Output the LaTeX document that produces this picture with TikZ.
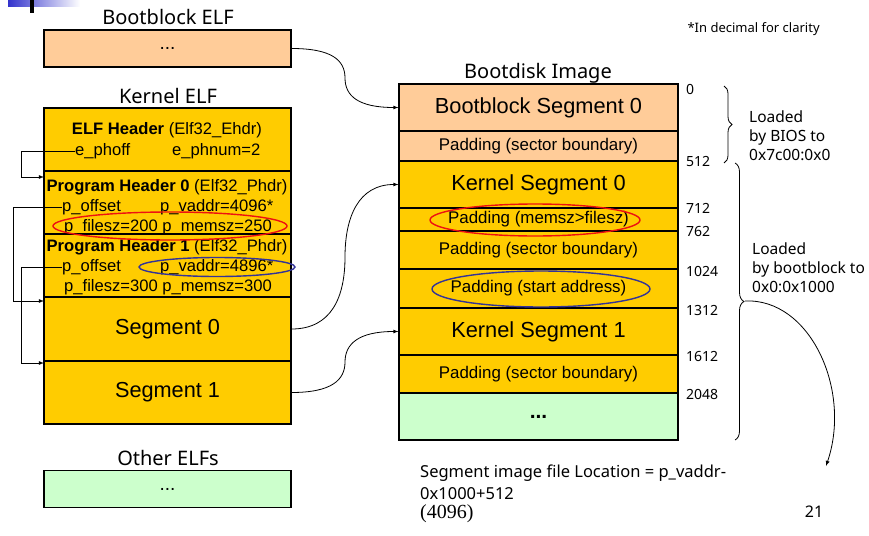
\documentclass[tikz,border=0pt]{standalone}
\usepackage{fontspec}
\setmainfont{Liberation Sans}
\newfontfamily\labelfont{Noto Sans}
\newfontfamily\seriffont{Liberation Serif}
\usetikzlibrary{decorations.pathreplacing}
\definecolor{peach}{HTML}{FFCC99}
\definecolor{gold}{HTML}{FFCC00}
\definecolor{mint}{HTML}{CCFFCC}
\definecolor{ringred}{HTML}{EE1111}
\definecolor{ringblue}{HTML}{333399}
\definecolor{barblue}{HTML}{3333CC}
\newcommand{\fs}[1]{\fontsize{#1}{#1}\selectfont}
\newcommand{\fsl}[2]{\fontsize{#1}{#2}\selectfont}

\begin{document}
\begin{tikzpicture}[x=1pt, y=-1pt, >=latex,
	cell/.style={draw, line width=1.1pt, minimum width=247pt, inner sep=0pt},
	title/.style={font=\labelfont\fs{20}},
	field/.style={font=\fs{16.6}, inner sep=0pt},
	num/.style={font=\labelfont\fs{14}, anchor=west, inner sep=0pt},
	note/.style={font=\labelfont\fsl{15.5}{19}, anchor=west, inner sep=0pt, align=left}]
	\useasboundingbox (0,0) rectangle (869,535);
	% corner mark
	\shade[left color=barblue, right color=white] (8,0) rectangle (80,7);
	\fill (30,0) rectangle (34,13);
	% left column
	\node[title] (bbtitle) at (168,17) {Bootblock ELF};
	\node[cell, fill=peach, minimum height=37pt, font=\fs{19}] (bbelf) at (167.5,48.5) {...};
	\node[title] (ktitle) at (168,96) {Kernel ELF};
	\foreach \n/\t/\b in {ehdr/108/171, ph0/171/234, ph1/234/297, seg0/297/361, seg1/361/424}
	\node[cell, fill=gold, minimum height={(\b-\t)*1pt}] (\n) at (167.5,{(\t+\b)/2}) {};
	\node[font=\fs{21.7}] at (seg0) {Segment 0};
	\node[font=\fs{21.7}] at (seg1) {Segment 1};
	\node[field] (ehdrtitle) at (167,130) {\textbf{ELF Header} (Elf32\_Ehdr)};
	\node[field, anchor=west] (ephoff) at (75,151) {e\_phoff};
	\node[field, anchor=west] (ephnum) at (172,151) {e\_phnum=2};
	\node[field] (ph0title) at (167,187) {\textbf{Program Header 0} (Elf32\_Phdr)};
	\node[field, anchor=west] (ph0off) at (62,207) {p\_offset};
	\node[field, anchor=west] (ph0vaddr) at (160,207) {p\_vaddr=4096*};
	\node[field] (ph0size) at (168,227) {p\_filesz=200 p\_memsz=250};
	\node[field] (ph1title) at (167,247) {\textbf{Program Header 1} (Elf32\_Phdr)};
	\node[field, anchor=west] (ph1off) at (62,267) {p\_offset};
	\node[field, anchor=west] (ph1vaddr) at (160,267) {p\_vaddr=4896*};
	\node[field] (ph1size) at (168,287) {p\_filesz=300 p\_memsz=300};
	\draw[ringred, line width=1.4pt] (170,226) ellipse [x radius=117, y radius=14];
	\draw[ringblue, line width=1.4pt] (217,267) ellipse [x radius=78, y radius=9.5];
	\node[title] (otitle) at (168,458) {Other ELFs};
	\node[cell, fill=mint, minimum height=37pt, font=\fs{19}] (oelf) at (167.5,489) {...};
	% offset pointers
	\coordinate (ph0in) at (44,177);
	\coordinate (seg0in) at (44,301);
	\coordinate (seg1in) at (44,363);
	\draw[->, line width=0.8pt] (ephoff.west) -| (21,177) -- (ph0in);
	\draw[->, line width=0.8pt] (ph0off.west) -| (13,301) -- (seg0in);
	\draw[->, line width=0.8pt] (ph1off.west) -| (21,363) -- (seg1in);
	% bootdisk image
	\node[title] (dtitle) at (538,73) {Bootdisk Image};
	\foreach \n/\t/\b/\c/\s/\txt in {bbseg/84/131/peach/21.8/Bootblock Segment 0,
		pad0/131/161/peach/16.9/Padding (sector boundary),
		kseg0/161/208/gold/21.8/Kernel Segment 0,
		padmem/208/231/gold/16.9/Padding (memsz>filesz),
		pad1/231/269/gold/16.9/Padding (sector boundary),
		padstart/269/308/gold/16.9/Padding (start address),
		kseg1/308/355/gold/21.8/Kernel Segment 1,
		pad2/355/393/gold/16.9/Padding (sector boundary),
		rest/393/440/mint/21/\textbf{...}}
	\node[cell, fill=\c, minimum width=279pt, minimum height={(\b-\t)*1pt}, font=\fs{\s}] (\n) at (538.5,{(\t+\b)/2}) {\txt};
	\draw[ringred, line width=1.4pt] (535,220) ellipse [x radius=105, y radius=16];
	\draw[ringblue, line width=1.4pt] (541,289) ellipse [x radius=109, y radius=18];
	\foreach \v/\y in {0/89, 512/162, 712/208, 762/231, 1024/271, 1312/310, 1612/356, 2048/394}
	\node[num] (off\v) at (686,\y) {\v};
	% braces
	\draw[line width=0.8pt, decorate, decoration={brace, amplitude=8pt}] (724,86) -- (724,163);
	\draw[line width=0.8pt, decorate, decoration={brace, amplitude=9pt}] (735,163) -- (735,440);
	\coordinate (loadtip) at (745,301);
	\node[note] (biosnote) at (749,136) {Loaded\\by BIOS to\\0x7c00:0x0};
	\node[note] (bootnote) at (752,268) {Loaded\\by bootblock to\\0x0:0x1000};
	\node[font=\labelfont\fs{13}, anchor=west] (decnote) at (684,29) {*In decimal for clarity};
	% copies
	\draw[->, line width=0.8pt] (bbelf.east) .. controls +(40,0) and +(0,-18) .. (345,78) .. controls +(0,18) and +(-40,0) .. (bbseg.west);
	\draw[->, line width=0.8pt] (seg0.east) .. controls +(40,0) and +(0,40) .. (345,257) .. controls +(0,-40) and +(-40,0) .. (kseg0.west);
	\draw[->, line width=0.8pt] (seg1.east) .. controls +(40,0) and +(0,18) .. (345,362) .. controls +(0,-18) and +(-40,0) .. (kseg1.west);
	% formula
	\node[note, font=\labelfont\fs{16.5}] (loc1) at (420,473) {Segment image file Location = p\_vaddr-};
	\node[note, font=\labelfont\fs{16.5}] (loc2) at (420,494) {0x1000+512};
	\node[note, font=\seriffont\fs{20}] (loc3) at (420,514) {(4096)};
	\coordinate (loctip) at (826,466);
	\draw[->, line width=0.8pt] (loadtip) .. controls (810,298) and (852,390) .. (loctip);
	\node[font=\labelfont\fs{16}] (page) at (814,512) {21};
\end{tikzpicture}
\end{document}
